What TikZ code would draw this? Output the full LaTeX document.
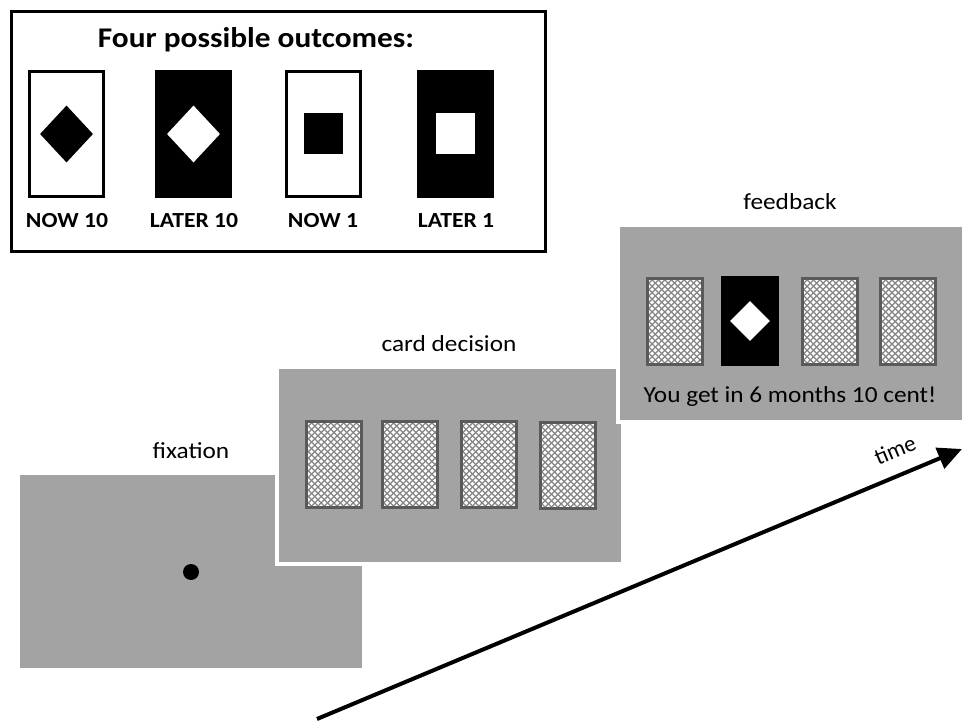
\documentclass[tikz,border=0pt]{standalone}
\usepackage{fontspec}
\setmainfont{Carlito}
\usetikzlibrary{arrows.meta,shapes.geometric}
\definecolor{panelgray}{HTML}{A3A3A3}
\definecolor{cardedge}{HTML}{5A5A5A}
\definecolor{hatchgray}{HTML}{858585}
\newcommand\myhstretch[1]{\scalebox{1.1}[1]{#1}}
\tikzset{
  panel/.style={rectangle, fill=panelgray, draw=white, line width=4pt, minimum width=346pt, minimum height=197pt, inner sep=0pt},
  steplabel/.style={font=\fontsize{23}{25}\selectfont, inner sep=0pt},
  hatchline/.style={hatchgray, line width=1.25pt},
  hcard/.style={rectangle, fill=white, draw=cardedge, line width=3pt, minimum width=55pt, minimum height=86pt, inner sep=0pt,
    path picture={
      \foreach \k in {-14,...,14} {
        \draw[hatchline] ([xshift=\k*6.4pt]path picture bounding box.center) ++(-70pt,-70pt) -- ++(140pt,140pt);
        \draw[hatchline] ([xshift=\k*6.4pt]path picture bounding box.center) ++(-70pt,70pt) -- ++(140pt,-140pt);
      }
    }},
  wcard/.style={rectangle, fill=white, draw=black, line width=3pt, minimum width=74pt, minimum height=125pt, inner sep=0pt},
  bcard/.style={rectangle, fill=black, draw=black, line width=3pt, minimum width=74pt, minimum height=125pt, inner sep=0pt},
  bigdia/.style={diamond, inner sep=0pt, minimum width=53pt, minimum height=57pt},
  sq/.style={rectangle, inner sep=0pt, minimum width=39pt, minimum height=41pt},
  outlabel/.style={font=\fontsize{21.5}{24}\selectfont\bfseries, inner sep=0pt},
}
\begin{document}
\begin{tikzpicture}[x=1pt,y=-1pt]
\useasboundingbox (0,0) rectangle (962,722);
% outcomes box
\node[draw=black, line width=3pt, minimum width=534pt, minimum height=240pt, inner sep=0pt] (obox) at (278.5,131.5) {};
\node[font=\fontsize{28.5}{30}\selectfont\bfseries, inner sep=0pt] (otitle) at (256,40) {\myhstretch{Four possible outcomes:}};
\node[wcard] (o1) at (66.5,134) {};
\node[bcard] (o2) at (193.5,134) {};
\node[wcard] (o3) at (323,134) {};
\node[bcard] (o4) at (455.5,134) {};
\node[bigdia, fill=black] (o1d) at (o1) {};
\node[bigdia, fill=white] (o2d) at (o2) {};
\node[sq, fill=black] (o3s) at (323,133.5) {};
\node[sq, fill=white] (o4s) at (455.5,133.5) {};
\node[outlabel] (l1) at (67,221) {\myhstretch{NOW 10}};
\node[outlabel] (l2) at (194,221) {\myhstretch{LATER 10}};
\node[outlabel] (l3) at (323,221) {\myhstretch{NOW 1}};
\node[outlabel] (l4) at (456,221) {\myhstretch{LATER 1}};
% fixation
\node[panel] (fix) at (191,571.5) {};
\node[circle, fill=black, inner sep=0pt, minimum size=16pt] (dot) at (191,572) {};
\node[steplabel] (fixl) at (191,451) {\myhstretch{fixation}};
% card decision
\node[panel] (dec) at (450,465.5) {};
\node[steplabel] (decl) at (449,344) {\myhstretch{card decision}};
\node[hcard] (d1) at (334,464.5) {};
\node[hcard] (d2) at (409.5,464.5) {};
\node[hcard] (d3) at (488.5,464.5) {};
\node[hcard] (d4) at (567.5,465.5) {};
% feedback
\node[panel] (fb) at (791,323.5) {};
\node[steplabel] (fbl) at (790,202) {\myhstretch{feedback}};
\node[hcard] (f1) at (674.5,321.5) {};
\node[rectangle, fill=black, inner sep=0pt, minimum width=58pt, minimum height=90pt] (f2) at (750,321) {};
\node[diamond, fill=white, inner sep=0pt, minimum width=40pt, minimum height=40pt] (f2d) at (750,321) {};
\node[hcard] (f3) at (829.5,321.5) {};
\node[hcard] (f4) at (908,321.5) {};
\node[steplabel] (fbt) at (790,396) {\myhstretch{You get in 6 months 10 cent!}};
% time arrow
\coordinate (ts) at (317,719);
\coordinate (te) at (962,449);
\draw[line width=4pt, -{Triangle[length=24pt,width=22pt]}] (ts) -- (te);
\node[font=\fontsize{23}{25}\selectfont, inner sep=0pt, rotate=22.7] (timel) at (895,450) {time};
\end{tikzpicture}
\end{document}
